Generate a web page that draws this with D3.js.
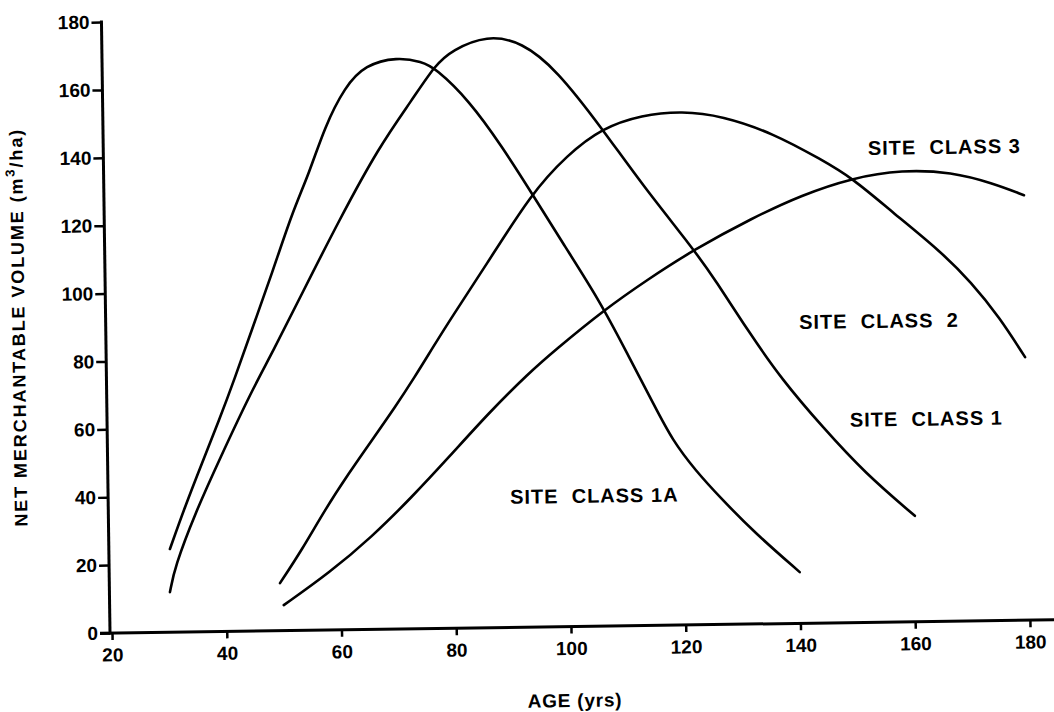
<!DOCTYPE html>
<html>
<head>
<meta charset="utf-8">
<script src="https://cdn.jsdelivr.net/npm/d3@7"></script>
<style>
  html, body { margin: 0; padding: 0; background: #fff; }
  svg { display: block; }
  text { font-family: "Liberation Sans", Arial, Helvetica, sans-serif; font-weight: bold; fill: #000; }
</style>
</head>
<body>
<svg id="chart" width="1054" height="712"></svg>
<script>
// Net merchantable volume (m3/ha) by stand age (yrs), one curve per site class
const xTicks = [20, 40, 60, 80, 100, 120, 140, 160, 180];
const yTicks = [0, 20, 40, 60, 80, 100, 120, 140, 160, 180];

const ages1A = [30.3, 33, 36.1, 39.2, 41.9, 45.1, 48.8, 52.4, 55.5, 58.3, 61.9, 65.5, 71.1, 75.4, 77.7, 83.5, 89.2, 94.2, 99.9, 105.7, 110.4, 115.2, 118.1, 122, 126.7, 132.3, 140];
const vol1A  = [24.5, 36.8, 49.7, 62.3, 74, 88.7, 105.4, 123, 134.7, 148.2, 159.9, 166.3, 168.5, 167, 165.1, 155.5, 141.6, 127.9, 111.9, 96.1, 80.5, 64.3, 54.6, 45.6, 36.7, 26.8, 15.1];

const ages1 = [30.2, 31.1, 34.8, 39.1, 45, 48.6, 54, 60.6, 67.7, 73.6, 77.7, 80.7, 86.8, 92.9, 98.9, 106.6, 113.5, 122.4, 126, 131.8, 137.4, 144.3, 151.6, 160.2];
const vol1  = [11.8, 19.2, 35, 50.5, 71, 81.8, 99.4, 120.7, 142.1, 155.8, 166, 170.3, 174.6, 172.4, 164, 146.7, 129.8, 110.4, 101.5, 85.8, 71.8, 57.8, 44, 31.2];

const ages2 = [49.4, 53.3, 57.4, 61.7, 65.8, 69.9, 73.4, 76.5, 80, 85.9, 94.2, 100.5, 106.6, 113.6, 120.6, 127.6, 136.3, 144.9, 150.1, 157, 165.1, 170.7, 175.4, 179.8];
const vol2  = [14, 23.7, 35.4, 46.2, 55.8, 65.4, 74.2, 82.5, 91.7, 106.3, 127.9, 138.9, 146.7, 150.4, 151.4, 149.8, 144.6, 136.4, 131, 120.8, 109.4, 99.6, 89.4, 77.5];

const ages3 = [50, 58, 65.5, 72.6, 79.2, 86.2, 93.3, 97.9, 106.5, 114.1, 122.2, 132.6, 141.3, 150.1, 158.8, 167.5, 174.5, 180];
const vol3  = [7.5, 16.8, 27.2, 38.8, 50.5, 63.3, 74.9, 81.5, 93.1, 101.8, 110.4, 119.6, 126.2, 131, 133.2, 132.3, 128.9, 125.2];

const seriesNames = ["SITE  CLASS 1A", "SITE  CLASS 1", "SITE  CLASS  2", "SITE  CLASS 3"];
// anchor of each curve label, in data units (age, volume)
const labelAge = [89.7, 149.1, 140.5, 152.9];
const labelVol = [36.4, 57.7, 86.7, 137.7];

const series = [
  { ages: ages1A, vols: vol1A },
  { ages: ages1,  vols: vol1 },
  { ages: ages2,  vols: vol2 },
  { ages: ages3,  vols: vol3 }
];

const svg = d3.select("#chart");
svg.append("rect").attr("width", 1054).attr("height", 712).attr("fill", "#fff");

// plot frame: origin at the axes corner, slightly turned as on the printed sheet
const g = svg.append("g").attr("transform", "translate(110,633) rotate(-0.8)");

const x = d3.scaleLinear().domain([20, 180]).range([2, 920]);
const y = d3.scaleLinear().domain([0, 180]).range([0, -611]);

// x axis
const xAxis = g.append("g")
  .call(d3.axisBottom(x).tickValues(xTicks).tickSize(7).tickPadding(8).tickSizeOuter(0));
xAxis.select(".domain").remove();
xAxis.selectAll(".tick line").attr("stroke", "#000").attr("stroke-width", 2.5);
xAxis.selectAll(".tick text").attr("font-size", 19).attr("font-family", null);

// y axis
const yAxis = g.append("g")
  .call(d3.axisLeft(y).tickValues(yTicks).tickSize(10).tickPadding(2).tickSizeOuter(0));
yAxis.select(".domain").remove();
yAxis.selectAll(".tick line").attr("stroke", "#000").attr("stroke-width", 2.5);
yAxis.selectAll(".tick text").attr("font-size", 19).attr("font-family", null);

// axis lines
g.append("line")
  .attr("x1", -10).attr("x2", 945).attr("y1", y(0)).attr("y2", y(0))
  .attr("stroke", "#000").attr("stroke-width", 3);
g.append("line")
  .attr("x1", 0).attr("x2", 0).attr("y1", y(0) + 1.5).attr("y2", y(180) - 1.5)
  .attr("stroke", "#000").attr("stroke-width", 3);

// smooth yield curves
const line = d3.line()
  .x(d => x(d[0]))
  .y(d => y(d[1]))
  .curve(d3.curveBasis);

series.forEach(s => {
  const pts = s.ages.map((a, i) => [a, s.vols[i]]);
  g.append("path")
    .attr("d", line(pts))
    .attr("fill", "none")
    .attr("stroke", "#000")
    .attr("stroke-width", 2.6)
    .attr("stroke-linecap", "round")
    .attr("stroke-linejoin", "round");
});

// curve labels
seriesNames.forEach((name, i) => {
  g.append("text")
    .attr("x", x(labelAge[i]))
    .attr("y", y(labelVol[i]))
    .attr("font-size", 20)
    .attr("letter-spacing", 1)
    .style("white-space", "pre")
    .text(name);
});

// axis titles
g.append("text")
  .attr("x", 464).attr("y", 80.5)
  .attr("text-anchor", "middle")
  .attr("font-size", 19)
  .attr("letter-spacing", 0.8)
  .text("AGE (yrs)");

const yTitle = g.append("text")
  .attr("transform", "translate(-81,-307) rotate(-90)")
  .attr("text-anchor", "middle")
  .attr("font-size", 18)
  .attr("letter-spacing", 1.9);
yTitle.append("tspan").text("NET MERCHANTABLE VOLUME (m");
yTitle.append("tspan").attr("font-size", 13).attr("dy", -8).text("3");
yTitle.append("tspan").attr("dy", 8).text("/ha)");
</script>
</body>
</html>
